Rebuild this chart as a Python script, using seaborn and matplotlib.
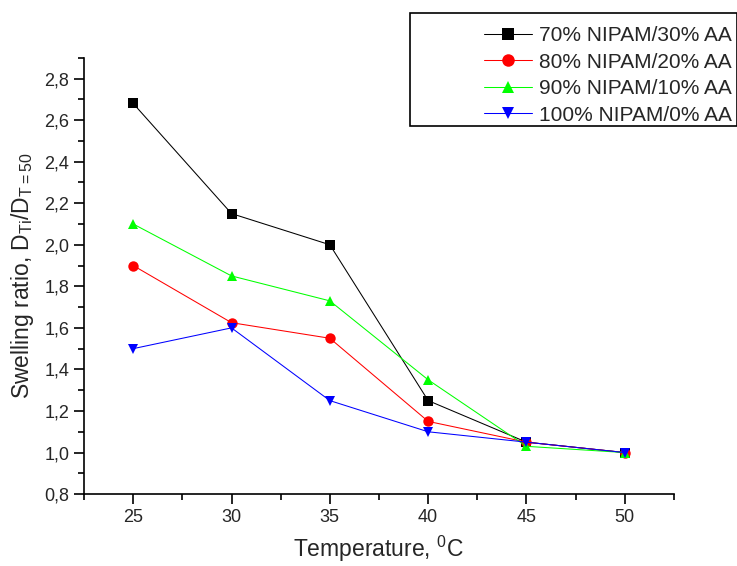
import matplotlib
matplotlib.use("Agg")
import matplotlib.pyplot as plt
import matplotlib.ticker as mticker
from matplotlib.patches import Rectangle
import numpy as np
import pandas as pd
import seaborn as sns

# Data
temperature = [25, 30, 35, 40, 45, 50]
nipam70 = [2.68, 2.15, 2.00, 1.25, 1.05, 1.00]
nipam80 = [1.90, 1.625, 1.55, 1.15, 1.05, 1.00]
nipam90 = [2.10, 1.85, 1.73, 1.35, 1.03, 1.00]
nipam100 = [1.50, 1.60, 1.25, 1.10, 1.05, 1.00]
series_names = ["70% NIPAM/30% AA", "80% NIPAM/20% AA",
                "90% NIPAM/10% AA", "100% NIPAM/0% AA"]
series_values = [nipam70, nipam80, nipam90, nipam100]

colors = ["#000000", "#ff0000", "#00ff00", "#0000ff"]
marker_styles = ["s", "o", "^", "v"]

df = pd.concat([pd.DataFrame({"T": temperature, "ratio": vals, "sample": name})
                for name, vals in zip(series_names, series_values)],
               ignore_index=True)

sns.set_style("ticks")
plt.rcParams["font.family"] = ["Liberation Sans", "DejaVu Sans"]
plt.rcParams["mathtext.fontset"] = "custom"
plt.rcParams["mathtext.rm"] = "Liberation Sans"

fig = plt.figure(figsize=(7.37, 5.66), dpi=100)
ax = fig.add_axes([0.114, 0.127, 0.8005, 0.771])

sns.lineplot(data=df, x="T", y="ratio", hue="sample", style="sample",
             hue_order=series_names, style_order=series_names,
             palette=dict(zip(series_names, colors)),
             markers=dict(zip(series_names, marker_styles)),
             dashes=False, linewidth=0.75, markersize=7.5, markeredgewidth=0,
             ax=ax)

ax.set_xlim(22.5, 52.5)
ax.set_ylim(0.8, 2.9)
ax.xaxis.set_major_locator(mticker.MultipleLocator(5))
ax.xaxis.set_minor_locator(mticker.MultipleLocator(2.5))
ax.yaxis.set_major_locator(mticker.MultipleLocator(0.2))
ax.yaxis.set_minor_locator(mticker.MultipleLocator(0.1))
ax.yaxis.set_major_formatter(mticker.FuncFormatter(lambda v, p: f"{v:.1f}".replace(".", ",")))
ax.tick_params(which="major", direction="out", length=7, width=1.2, labelsize=13, color="black")
ax.tick_params(which="minor", direction="out", length=4, width=1.2, color="black")
for s in ["top", "right"]:
    ax.spines[s].set_visible(False)
for s in ["left", "bottom"]:
    ax.spines[s].set_linewidth(1.2)
    ax.spines[s].set_color("black")

ax.set_xlabel(r"Temperature, $^{\mathregular{0}}$C", fontsize=16.5, labelpad=6)
ax.set_ylabel(r"Swelling ratio, D$_{\mathregular{Ti}}$/D$_{\mathregular{T=50}}$", fontsize=16.5, labelpad=6)

handles, labels = ax.get_legend_handles_labels()
leg = ax.legend(handles, labels, loc="upper right", bbox_to_anchor=(1.0095, 0.976),
                bbox_transform=fig.transFigure, frameon=False, fontsize=15,
                handlelength=2.3, handletextpad=0.3, labelspacing=0.36, borderpad=0.1)
for line in leg.get_lines():
    line.set_markersize(9)
    line.set_markeredgewidth(0)
fig.patches.append(Rectangle((410 / 737, 1 - 126 / 566), 327 / 737, 113 / 566,
                             transform=fig.transFigure, fill=False,
                             edgecolor="black", linewidth=1.2, zorder=5))

fig.savefig("out.png", dpi=100)
